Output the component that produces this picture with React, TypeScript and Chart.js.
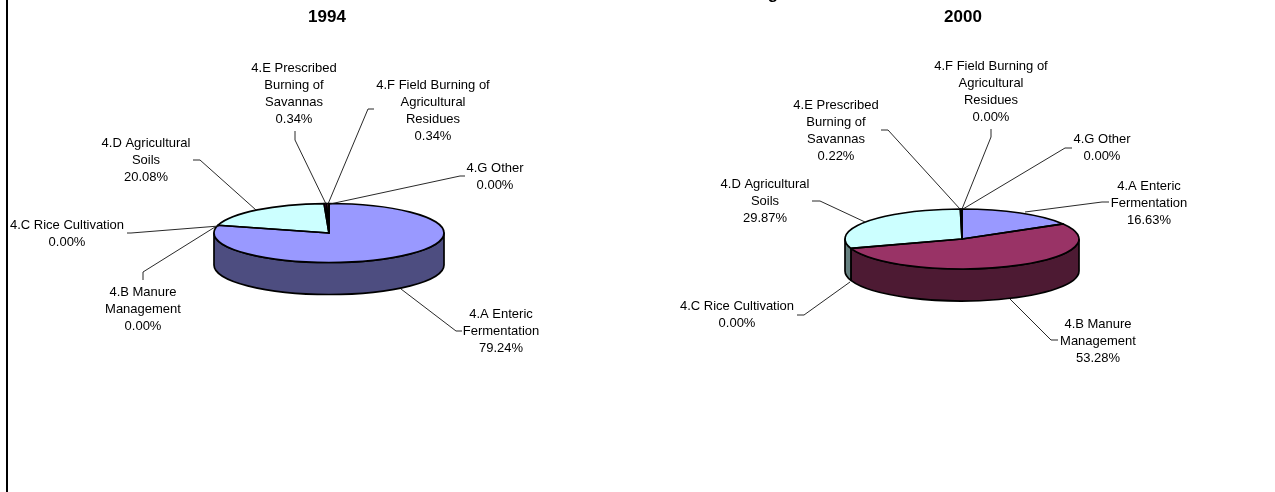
import React, { useEffect, useRef } from "react";
import { Chart, registerables } from "chart.js";

Chart.register(...registerables);

const WIDTH = 1275;
const HEIGHT = 492;

const categoryNames = [
  ["4.A Enteric", "Fermentation"],
  ["4.B Manure", "Management"],
  ["4.C Rice Cultivation"],
  ["4.D Agricultural", "Soils"],
  ["4.E Prescribed", "Burning of", "Savannas"],
  ["4.F Field Burning of", "Agricultural", "Residues"],
  ["4.G Other"],
];
const values1994 = [79.24, 0.0, 0.0, 20.08, 0.34, 0.34, 0.0];
const values2000 = [16.63, 53.28, 0.0, 29.87, 0.22, 0.0, 0.0];
const topColors = ["#9999FF", "#993366", "#FFFFCC", "#CCFFFF", "#660066", "#FF8080", "#0066CC"];
const sideColors = ["#4D4D80", "#4D1A33", "#808066", "#668080", "#330033", "#804040", "#003366"];

type Spot = { x: number; y: number; line: number[][] };

// annotation placement: label centre, first-line centre, leader polyline
const spots1994: Spot[] = [
  { x: 501, y: 314, line: [[462, 331], [456, 331], [401, 289]] },
  { x: 143, y: 292, line: [[143, 280], [143, 272], [215, 227]] },
  { x: 67, y: 225, line: [[127, 233], [131, 233], [219, 226]] },
  { x: 146, y: 143, line: [[193, 160], [200, 160], [256, 210]] },
  { x: 294, y: 68, line: [[295, 131], [295, 140], [326, 204]] },
  { x: 433, y: 85, line: [[374, 109], [368, 109], [328, 204]] },
  { x: 495, y: 168, line: [[465, 176], [460, 176], [330, 204]] },
];
const spots2000: Spot[] = [
  { x: 1149, y: 186, line: [[1109, 202], [1102, 202], [1025, 212]] },
  { x: 1098, y: 324, line: [[1058, 340], [1051, 340], [1010, 299]] },
  { x: 737, y: 306, line: [[797, 315], [804, 315], [850, 282]] },
  { x: 765, y: 184, line: [[812, 201], [820, 201], [865, 222]] },
  { x: 836, y: 105, line: [[881, 130], [888, 130], [960, 209]] },
  { x: 991, y: 66, line: [[991, 129], [991, 137], [962, 209]] },
  { x: 1102, y: 139, line: [[1072, 148], [1065, 148], [963, 209]] },
];

const LINE_STEP = 17;
const FONT = '"Liberation Sans", Arial, sans-serif';
const TITLE_FONT = `bold 17px ${FONT}`;
const LABEL_FONT = `13px ${FONT}`;

function piePlugin(title: string, titleX: number, squash: number, depth: number, spots: Spot[], values: number[]) {
  return {
    id: "pie3d",
    beforeDatasetDraw(chart: any, args: any) {
      const ctx: CanvasRenderingContext2D = chart.ctx;
      const arcs: any[] = args.meta.data;
      const { x: cx, y: cy, outerRadius: r } = arcs[0];
      const ry = r * squash;
      ctx.lineWidth = 1.7;
      ctx.strokeStyle = "#000";
      ctx.lineJoin = "round";

      // side wall: the front half of each slice, extruded downwards
      arcs.forEach((arc, i) => {
        const a = Math.max(arc.startAngle, 0);
        const b = Math.min(arc.endAngle, Math.PI);
        if (b <= a || values[i] === 0) return;
        ctx.beginPath();
        ctx.ellipse(cx, cy, r, ry, 0, a, b);
        ctx.ellipse(cx, cy + depth, r, ry, 0, b, a, true);
        ctx.closePath();
        ctx.fillStyle = sideColors[i];
        ctx.fill();
        ctx.stroke();
      });

      // top face: the library's own arc elements, squashed
      ctx.save();
      ctx.translate(cx, cy);
      ctx.scale(1, squash);
      ctx.translate(-cx, -cy);
      arcs.forEach((arc) => arc.draw(ctx));
      ctx.restore();

      // outlines of the top face, at an even width
      arcs.forEach((arc, i) => {
        if (values[i] === 0) return;
        ctx.beginPath();
        ctx.moveTo(cx, cy);
        ctx.ellipse(cx, cy, r, ry, 0, arc.startAngle, arc.endAngle);
        ctx.closePath();
        ctx.stroke();
      });

      ctx.fillStyle = "#000";
      ctx.textAlign = "center";
      ctx.textBaseline = "middle";
      ctx.font = TITLE_FONT;
      ctx.fillText(title, titleX, 17);

      // leaders and data labels
      ctx.font = LABEL_FONT;
      ctx.lineWidth = 0.9;
      ctx.strokeStyle = "#111";
      spots.forEach((s, i) => {
        ctx.beginPath();
        s.line.forEach(([px, py], k) => (k ? ctx.lineTo(px, py) : ctx.moveTo(px, py)));
        ctx.stroke();
        const lines = [...categoryNames[i], values[i].toFixed(2) + "%"];
        lines.forEach((t, k) => ctx.fillText(t, s.x, s.y + k * LINE_STEP));
      });
      return false;
    },
  };
}

function Pie(props: {
  cx: number; cy: number; rx: number; ry: number; depth: number;
  title: string; titleX: number; values: number[]; spots: Spot[]; extra?: boolean;
}) {
  const ref = useRef<HTMLCanvasElement | null>(null);
  useEffect(() => {
    const { cx, cy, rx, ry, depth, title, titleX, values, spots, extra } = props;
    const heading = {
      id: "heading",
      afterDraw(chart: any) {
        if (!extra) return;
        const ctx = chart.ctx;
        ctx.save();
        ctx.fillStyle = "#000";
        ctx.textAlign = "center";
        ctx.textBaseline = "alphabetic";
        ctx.font = TITLE_FONT;
        ctx.fillText("g", 773, -1.5);
        ctx.restore();
      },
    };
    const chart = new Chart(ref.current as HTMLCanvasElement, {
      type: "pie",
      data: {
        labels: categoryNames.map((c) => c.join(" ")),
        datasets: [{ data: values, backgroundColor: topColors, borderWidth: 0 }],
      },
      options: {
        animation: false,
        responsive: false,
        devicePixelRatio: 1,
        layout: {
          padding: { left: cx - rx, right: WIDTH - cx - rx, top: cy - rx, bottom: HEIGHT - cy - rx },
        },
        plugins: { legend: { display: false }, tooltip: { enabled: false } },
      },
      plugins: [piePlugin(title, titleX, ry / rx, depth, spots, values), heading],
    } as any);
    return () => chart.destroy();
  }, []);
  return (
    <canvas
      ref={ref}
      width={WIDTH}
      height={HEIGHT}
      style={{ position: "absolute", left: 0, top: 0, width: WIDTH, height: HEIGHT }}
    />
  );
}

export default function App() {
  return (
    <div style={{ position: "fixed", left: 0, top: 0, width: WIDTH, height: HEIGHT, background: "#fff", overflow: "hidden" }}>
      <div style={{ position: "absolute", left: 6, top: 0, width: 2, height: HEIGHT, background: "#000" }} />
      <Pie cx={329} cy={233} rx={115} ry={29.5} depth={32} title="1994" titleX={327} values={values1994} spots={spots1994} />
      <Pie cx={962} cy={239} rx={117} ry={30} depth={32} title="2000" titleX={963} values={values2000} spots={spots2000} extra />
    </div>
  );
}
